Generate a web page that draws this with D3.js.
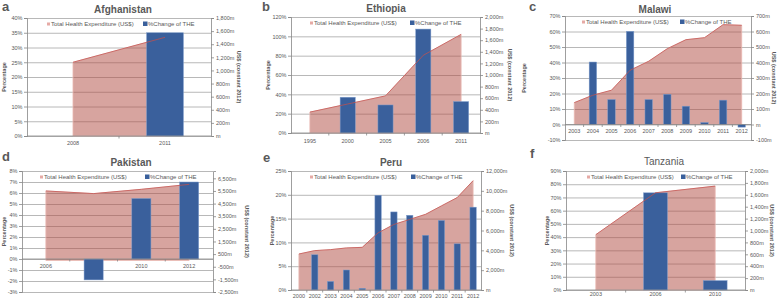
<html>
<head>
<script src="https://d3js.org/d3.v7.min.js"></script>
<style>
    html, body { margin: 0; padding: 0; background: #fff; }
    svg { display: block; }
    text { font-family: "Liberation Sans", Arial, sans-serif; fill: #595959; }
    .tick text { font-size: 5.5px; }
</style>
</head>
<body>
<svg id="chart" width="777" height="299"></svg>
<script>
// ---- data ----
// a - Afghanistan
const afgYears = ["2008", "2011"];
const afgTHE = [1125, 1505];          // US$ m (constant 2012)
const afgChange = [null, 35];         // % change of THE
const afgPctTicks = [0, 5, 10, 15, 20, 25, 30, 35, 40];
const afgUsdTicks = [0, 200, 400, 600, 800, 1000, 1200, 1400, 1600, 1800];

// b - Ethiopia
const ethYears = ["1995", "2000", "2005", "2006", "2011"];
const ethTHE = [360, 500, 640, 1340, 1700];
const ethChange = [null, 37, 29, 107.5, 32.5];
const ethPctTicks = [0, 20, 40, 60, 80, 100, 120];
const ethUsdTicks = [0, 200, 400, 600, 800, 1000, 1200, 1400, 1600, 1800, 2000];

// c - Malawi
const mwiYears = ["2003", "2004", "2005", "2006", "2007", "2008", "2009", "2010", "2011", "2012"];
const mwiTHE = [141, 189, 221, 350, 408, 489, 547, 560, 644, 640];
const mwiChange = [null, 40.3, 16.1, 60.1, 16.1, 19.5, 11.8, 1.3, 15.7, -1.7];
const mwiPctTicks = [-10, 0, 10, 20, 30, 40, 50, 60, 70];
const mwiUsdTicks = [-100, 0, 100, 200, 300, 400, 500, 600, 700];

// d - Pakistan
const pakYears = ["2006", "2008", "2010", "2012"];
const pakTHE = [5500, 5290, 5630, 6020];
const pakChange = [null, -1.9, 5.5, 7.0];
const pakPctTicks = [-3, -2, -1, 0, 1, 2, 3, 4, 5, 6, 7, 8];
const pakUsdTicks = [-2500, -1500, -500, 500, 1500, 2500, 3500, 4500, 5500, 6500];
const pakUsdMax = 7080;

// e - Peru
const peruYears = ["2000", "2002", "2003", "2004", "2005", "2006", "2007", "2008", "2009", "2010", "2011", "2012"];
const peruTHE = [3630, 3970, 4070, 4240, 4300, 5760, 6610, 7120, 7630, 8480, 9320, 11020];
const peruChange = [null, 7.4, 1.8, 4.2, 0.35, 19.9, 16.4, 15.7, 11.5, 14.6, 9.7, 17.4];
const peruPctTicks = [0, 5, 10, 15, 20, 25];
const peruUsdTicks = [0, 2000, 4000, 6000, 8000, 10000, 12000];

// f - Tanzania
const tzaYears = ["2003", "2006", "2010"];
const tzaTHE = [930, 1634, 1746];
const tzaChange = [null, 73.5, 7.1];
const tzaPctTicks = [0, 10, 20, 30, 40, 50, 60, 70, 80, 90];
const tzaUsdTicks = [0, 200, 400, 600, 800, 1000, 1200, 1400, 1600, 1800, 2000];

// ---- panel layout (positions only) ----
const panels = [
    { letter: "a", title: "Afghanistan", years: afgYears, the: afgTHE, change: afgChange, pct: afgPctTicks, usd: afgUsdTicks,
      box: [27, 211, 18, 136], letterPos: [2, 11], titlePos: [123, 13], legend: [47, 143, 24], xLabY: 145, leftT: 4, rightT: 239 },
    { letter: "b", title: "Ethiopia", years: ethYears, the: ethTHE, change: ethChange, pct: ethPctTicks, usd: ethUsdTicks,
      box: [291, 480, 17, 133], letterPos: [262, 11], titlePos: [386, 12], legend: [310, 410, 23], xLabY: 143, leftT: 268, rightT: 510 },
    { letter: "c", title: "Malawi", years: mwiYears, the: mwiTHE, change: mwiChange, pct: mwiPctTicks, usd: mwiUsdTicks,
      box: [565, 751, 16, 140], letterPos: [529, 11], titlePos: [655, 13], legend: [582, 680, 22], xLabY: 133, leftT: 524, rightT: 774 },
    { letter: "d", title: "Pakistan", years: pakYears, the: pakTHE, change: pakChange, pct: pakPctTicks, usd: pakUsdTicks, usdMax: pakUsdMax,
      box: [22, 213, 171, 292], letterPos: [2, 161], titlePos: [131, 166], legend: [40, 145, 177], xLabY: 268, leftT: 4, rightT: 247 },
    { letter: "e", title: "Peru", years: peruYears, the: peruTHE, change: peruChange, pct: peruPctTicks, usd: peruUsdTicks,
      box: [291, 481, 171, 290], letterPos: [263, 162], titlePos: [391, 166], legend: [310, 411, 177], xLabY: 298, leftT: 272, rightT: 512 },
    { letter: "f", title: "Tanzania", years: tzaYears, the: tzaTHE, change: tzaChange, pct: tzaPctTicks, usd: tzaUsdTicks,
      box: [566, 745, 171, 290], letterPos: [530, 158], titlePos: [664, 165], legend: [587, 681, 177], xLabY: 296, leftT: 547, rightT: 772, lightTitle: true }
];

const svg = d3.select("#chart");
svg.append("rect").attr("width", 777).attr("height", 299).attr("fill", "#fff");

const usdFormat = v => v === 0 ? "m" : (v < 0 ? "-" : "") + d3.format(",")(Math.abs(v)) + "m";

panels.forEach(p => {
    const [x0, x1, y0, y1] = p.box;
    const g = svg.append("g");

    const x = d3.scaleBand().domain(p.years).range([x0, x1]);
    const yL = d3.scaleLinear().domain([p.pct[0], p.pct[p.pct.length - 1]]).range([y1, y0]);
    const yR = d3.scaleLinear().domain([p.usd[0], p.usdMax || p.usd[p.usd.length - 1]]).range([y1, y0]);
    const cx = d => x(d) + x.bandwidth() / 2;

    // gridlines
    g.selectAll(".grid").data(p.pct).join("line")
        .attr("x1", x0).attr("x2", x1)
        .attr("y1", d => yL(d) + 0.5).attr("y2", d => yL(d) + 0.5)
        .attr("stroke", "#a6a6a6").attr("stroke-width", 0.8);

    // THE area (right axis)
    const pts = p.years.map((yr, i) => ({ yr, v: p.the[i] }));
    const area = d3.area().x(d => cx(d.yr)).y0(yR(0)).y1(d => yR(d.v));
    g.append("path").datum(pts).attr("d", area)
        .attr("fill", "#b04a40").attr("fill-opacity", 0.5)
        .attr("stroke", "#e8b6b0").attr("stroke-width", 0.8);

    // category labels (under the bars, like the original)
    g.selectAll(".xl").data(p.years).join("text")
        .attr("x", d => cx(d)).attr("y", p.xLabY)
        .attr("text-anchor", "middle").attr("font-size", 5.5)
        .text(d => d);

    // % change bars (left axis)
    const bw = x.bandwidth() * 0.4;
    const bars = p.years.map((yr, i) => ({ yr, v: p.change[i] })).filter(d => d.v !== null);
    g.selectAll(".bar").data(bars).join("rect")
        .attr("x", d => cx(d.yr) - bw / 2)
        .attr("width", bw)
        .attr("y", d => Math.min(yL(d.v), yL(0)))
        .attr("height", d => Math.abs(yL(d.v) - yL(0)))
        .attr("fill", "#3a609c").attr("stroke", "#7d9bcb").attr("stroke-width", 0.5);

    // THE line on top
    const line = d3.line().x(d => cx(d.yr)).y(d => yR(d.v));
    g.append("path").datum(pts).attr("d", line)
        .attr("fill", "none").attr("stroke", "#c0504d").attr("stroke-width", 0.9).attr("stroke-opacity", 0.85);

    // left axis
    const la = g.append("g").attr("transform", `translate(${x0},0)`)
        .call(d3.axisLeft(yL).tickValues(p.pct).tickSize(3).tickPadding(1.5).tickFormat(d => d + "%"));
    // right axis
    const ra = g.append("g").attr("transform", `translate(${x1},0)`)
        .call(d3.axisRight(yR).tickValues(p.usd).tickSize(3).tickPadding(2).tickFormat(usdFormat));
    [la, ra].forEach(a => {
        a.selectAll("path, line").attr("stroke", "#868686").attr("stroke-width", 0.8);
        a.selectAll("text").attr("fill", "#595959");
    });

    // category axis at 0%
    const y0line = yL(0);
    g.append("line").attr("x1", x0).attr("x2", x1).attr("y1", y0line).attr("y2", y0line)
        .attr("stroke", "#868686").attr("stroke-width", 0.8);
    g.selectAll(".xt").data(p.years.slice(1)).join("line")
        .attr("x1", d => x(d)).attr("x2", d => x(d))
        .attr("y1", y0line).attr("y2", y0line + 2.5)
        .attr("stroke", "#868686").attr("stroke-width", 0.8);

    // axis titles
    const ym = (y0 + y1) / 2;
    g.append("text").attr("transform", `translate(${p.leftT},${ym}) rotate(-90)`)
        .attr("text-anchor", "middle").attr("dy", "0.35em")
        .attr("font-size", 5.5).attr("font-weight", "bold").attr("fill", "#404040")
        .text("Percentage");
    g.append("text").attr("transform", `translate(${p.rightT},${ym}) rotate(90)`)
        .attr("text-anchor", "middle").attr("dy", "0.35em")
        .attr("font-size", 5.5).attr("font-weight", "bold").attr("fill", "#404040")
        .text("US$ (constant 2012)");

    // legend
    const [lx1, lx2, ly] = p.legend;
    g.append("rect").attr("x", lx1).attr("y", ly - 1.5).attr("width", 3).attr("height", 3).attr("fill", "#e6aaa5");
    g.append("text").attr("x", lx1 + 4).attr("y", ly + 2).attr("font-size", 6).text("Total Health Expenditure (US$)");
    g.append("rect").attr("x", lx2).attr("y", ly - 2.5).attr("width", 4.5).attr("height", 4.5).attr("fill", "#3a609c");
    g.append("text").attr("x", lx2 + 5).attr("y", ly + 2).attr("font-size", 6).text("%Change of THE");

    // title and panel letter
    g.append("text").attr("x", p.titlePos[0]).attr("y", p.titlePos[1])
        .attr("text-anchor", "middle").attr("font-size", 10)
        .attr("font-weight", p.lightTitle ? "normal" : "bold").attr("fill", "#404040")
        .text(p.title);
    g.append("text").attr("x", p.letterPos[0]).attr("y", p.letterPos[1])
        .attr("font-size", 13).attr("font-weight", "bold").attr("fill", "#000")
        .text(p.letter);
});
</script>
</body>
</html>
